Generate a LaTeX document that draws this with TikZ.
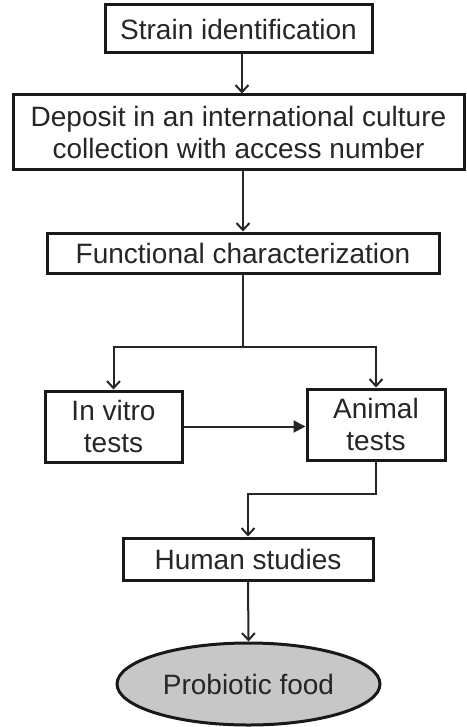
\documentclass[tikz,border=0pt]{standalone}
\usepackage{fontspec}
\setmainfont{Liberation Sans}
\usetikzlibrary{arrows.meta,shapes.geometric}
\begin{document}
\begin{tikzpicture}[x=1pt,y=-1pt,
  box/.style={draw=black!90, line width=3pt, fill=white, align=center, inner sep=0pt,
    font=\fontsize{28}{32}\selectfont, text=black!85},
  conn/.style={draw=black!85, line width=2pt, -{Straight Barb[length=7pt,width=13pt,line width=2pt]}},
  connf/.style={draw=black!85, line width=2pt, -{Triangle[length=12pt,width=12pt]}},
  plain/.style={draw=black!85, line width=2pt}]
\useasboundingbox (0,0) rectangle (466,727);
\node[box, minimum width=267pt, minimum height=48pt] (b1) at (238.5,29) {Strain identification};
\node[box, minimum width=451pt, minimum height=75pt] (b2) at (238.5,132.5) {Deposit in an international culture\\collection with access number};
\node[box, minimum width=392pt, minimum height=40pt] (b3) at (243,253) {Functional characterization};
\node[box, minimum width=137pt, minimum height=71pt] (iv) at (113.5,426.5) {In vitro\\tests};
\node[box, minimum width=138pt, minimum height=71pt] (an) at (376,424.5) {Animal\\tests};
\node[box, minimum width=250pt, minimum height=42pt] (hs) at (248,559) {Human studies};
\node[box, ellipse, fill=black!22, inner sep=0pt, minimum width=263pt, minimum height=82pt] (pf) at (248.5,684) {Probiotic food};
\coordinate (s1) at (242,53);
\coordinate (sp) at (243,347);
\coordinate (spl) at (113.5,347);
\coordinate (spr) at (376,347);
\coordinate (m2) at (376,494);
\coordinate (m3) at (248,494);
\draw[conn] (s1) -- (s1 |- b2.north);
\draw[conn] (b3.north |- b2.south) -- (b3.north);
\draw[plain] (b3.south) -- (sp);
\draw[conn] (sp) -- (spl) -- (iv.north);
\draw[conn] (sp) -- (spr) -- (an.north);
\draw[connf] (iv.east) -- (iv.east -| an.west);
\draw[conn] (an.south) -- (m2) -- (m3) -- (hs.north);
\draw[conn] (hs.south) -- (pf.north);
\end{tikzpicture}
\end{document}
